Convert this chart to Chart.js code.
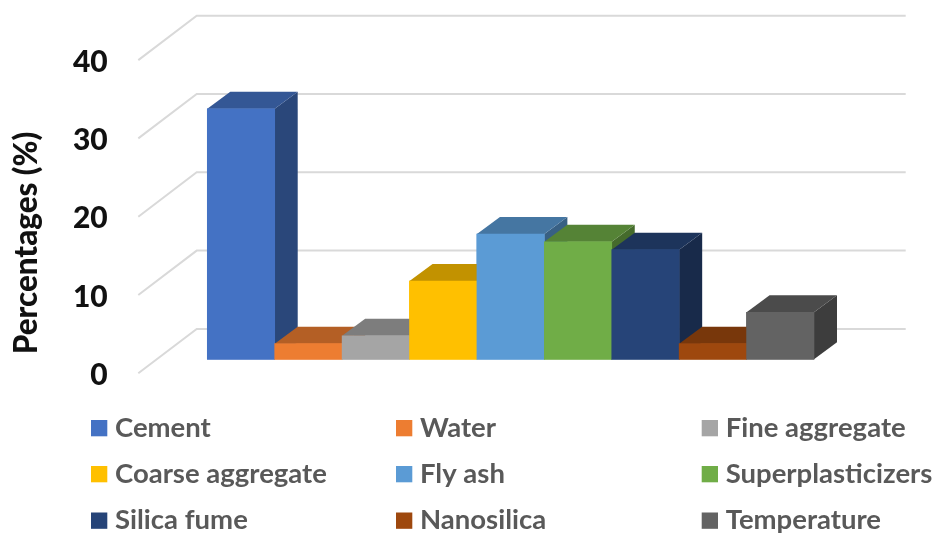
<!DOCTYPE html>
<html>
<head>
<meta charset="utf-8">
<title>Percentages</title>
<script src="https://cdn.jsdelivr.net/npm/chart.js@4/dist/chart.umd.min.js"></script>
<style>
  html, body { margin: 0; padding: 0; background: #fff; }
  canvas { display: block; }
</style>
</head>
<body>
<canvas id="myChart" width="934" height="533"></canvas>
<script>
const categories = ["Cement", "Water", "Fine aggregate", "Coarse aggregate", "Fly ash", "Superplasticizers", "Silica fume", "Nanosilica", "Temperature"];
const percentages = [32, 2, 3, 10, 16, 15, 14, 2, 6];
const colors = ["#4472C4", "#ED7D31", "#A5A5A5", "#FFC000", "#5B9BD5", "#70AD47", "#264478", "#9E480E", "#636363"];
const yTicks = [0, 10, 20, 30, 40];
const yTitle = "Percentages (%)";

const FONT = "Lato, 'Open Sans', sans-serif";

// darken a hex colour for the top and side faces
function shade(hex, f) {
  const n = parseInt(hex.slice(1), 16);
  const r = Math.round((n >> 16) * f);
  const g = Math.round(((n >> 8) & 255) * f);
  const b = Math.round((n & 255) * f);
  return "rgb(" + r + "," + g + "," + b + ")";
}

function poly(ctx, pts, fill) {
  ctx.beginPath();
  ctx.moveTo(pts[0][0], pts[0][1]);
  pts.slice(1).forEach((p) => ctx.lineTo(p[0], p[1]));
  ctx.closePath();
  ctx.fillStyle = fill;
  ctx.fill();
}

// back wall and side wall lines
const wallsPlugin = {
  id: "walls",
  beforeDatasetsDraw(chart) {
    const ctx = chart.ctx;
    const y = chart.scales.y;
    ctx.save();
    ctx.strokeStyle = "#D9D9D9";
    ctx.lineWidth = 2;
    yTicks.forEach((t) => {
      const py = y.getPixelForValue(t);
      ctx.beginPath();
      ctx.moveTo(138.3, py + 14);
      ctx.lineTo(196.7, py - 30.4);
      ctx.lineTo(905.7, py - 30.4);
      ctx.stroke();
    });
    ctx.restore();
  },
};

// extrude each bar, left to right so neighbours overlap properly
const depthPlugin = {
  id: "depth",
  afterDatasetsDraw(chart) {
    const ctx = chart.ctx;
    const dx = 23;
    const dy = 17;
    chart.getDatasetMeta(0).data.forEach((bar, i) => {
      const p = bar.getProps(["x", "y", "base", "width"], true);
      const l = p.x - p.width / 2;
      const r = p.x + p.width / 2;
      poly(ctx, [[r, p.y], [r + dx, p.y - dy], [r + dx, p.base - dy], [r, p.base]], shade(colors[i], 0.62));
      poly(ctx, [[l, p.y], [l + dx, p.y - dy], [r + dx, p.y - dy], [r, p.y]], shade(colors[i], 0.76));
      bar.draw(ctx);
    });
  },
};

// three column legend under the plot, plus the rotated axis title
const textPlugin = {
  id: "chartText",
  afterDraw(chart) {
    const ctx = chart.ctx;
    const colX = [91, 396, 701.7];
    const rowY = [428, 474, 520.5];
    ctx.save();
    ctx.font = "bold 27.5px " + FONT;
    ctx.textBaseline = "middle";
    chart.data.labels.forEach((label, i) => {
      const x = colX[i % 3];
      const cy = rowY[Math.floor(i / 3)];
      ctx.fillStyle = colors[i];
      ctx.fillRect(x, cy - 8, 16.3, 16.3);
      ctx.fillStyle = "#595959";
      ctx.fillText(label, x + 24, cy);
    });
    ctx.restore();

    ctx.save();
    ctx.translate(36.5, 243);
    ctx.rotate(-Math.PI / 2);
    ctx.font = "900 31.4px " + FONT;
    ctx.textAlign = "center";
    ctx.textBaseline = "alphabetic";
    ctx.fillStyle = "#111";
    ctx.fillText(yTitle, 0, 0);
    ctx.restore();
  },
};

new Chart(document.getElementById("myChart"), {
  type: "bar",
  data: {
    labels: categories,
    datasets: [
      {
        label: yTitle,
        data: percentages,
        backgroundColor: colors,
        borderWidth: 0,
        barPercentage: 1,
        categoryPercentage: 1,
      },
    ],
  },
  options: {
    responsive: false,
    animation: false,
    layout: { padding: { top: 46.1, bottom: 173.7, left: 0, right: 120 } },
    plugins: { legend: { display: false }, tooltip: { enabled: false } },
    scales: {
      x: { display: false },
      y: {
        min: 0,
        max: 40,
        afterFit: (scale) => {
          scale.width = 207.3;
          // the big label gap should not eat into the plot height
          scale.paddingTop = 0;
          scale.paddingBottom = 0;
        },
        afterBuildTicks: (scale) => { scale.ticks = yTicks.map((v) => ({ value: v })); },
        grid: { display: false, drawTicks: false },
        border: { display: false },
        ticks: {
          padding: 99.6,
          labelOffset: 16,
          color: "#111",
          font: { family: FONT, size: 30, weight: "900" },
        },
      },
    },
  },
  plugins: [wallsPlugin, depthPlugin, textPlugin],
});
</script>
</body>
</html>
